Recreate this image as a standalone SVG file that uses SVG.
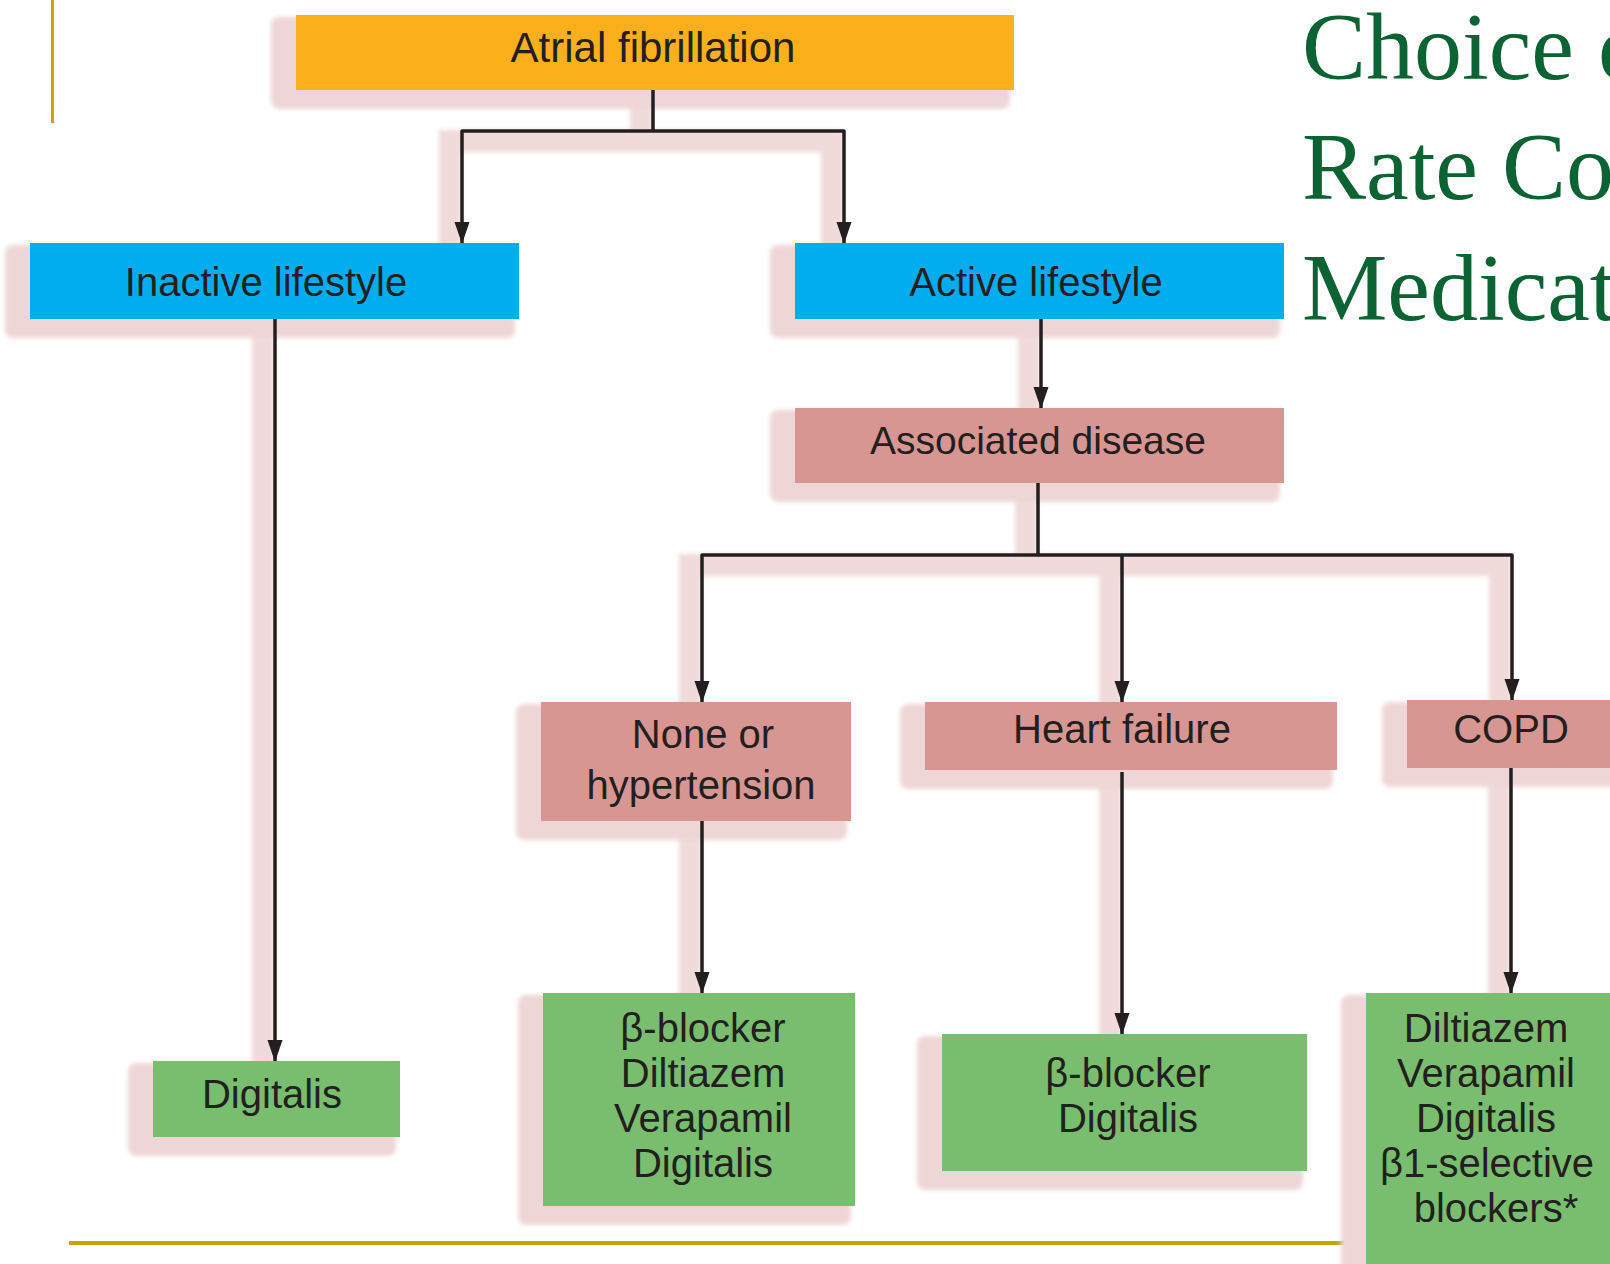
<svg xmlns="http://www.w3.org/2000/svg" width="1610" height="1264" viewBox="0 0 1610 1264">
<style>
  .txt { font-family: "Liberation Sans", Arial, sans-serif; font-size: 40px; fill: #231f20; text-anchor: middle; }
  .title { font-family: "Liberation Serif", "Times New Roman", serif; font-size: 96px; fill: #0b6232; }
  .orange { fill: #fbb01b; }
  .blue { fill: #00aeef; }
  .pink { fill: #d89693; }
  .green { fill: #78be6e; }
  .shadow { fill: #efd6d6; }
  .cshadow { fill: none; stroke: #f0dada; stroke-width: 22; }
  .conn { fill: none; stroke: #231f20; stroke-width: 3.5; stroke-linejoin: round; }
  .gold { fill: #d19f0a; }
</style>
<defs>
  <filter id="blur" x="-10%" y="-10%" width="120%" height="120%">
    <feGaussianBlur stdDeviation="2"/>
  </filter>
  <marker id="arr" markerUnits="userSpaceOnUse" markerWidth="22" markerHeight="16" viewBox="0 0 22 16" refX="21" refY="8" orient="auto">
    <path d="M0,0.5 L22,8 L0,15.5 Z" fill="#231f20"/>
  </marker>
</defs>

<rect x="0" y="0" width="1610" height="1264" fill="#ffffff"/>

<!-- decorative gold lines -->
<rect class="gold" x="51" y="0" width="3" height="123"/>
<rect class="gold" x="69" y="1241" width="1276" height="4"/>

<!-- title -->
<g id="title">
  <text class="title" x="1302" y="79">Choice o</text>
  <text class="title" x="1302" y="199">Rate Co</text>
  <text class="title" x="1302" y="320">Medicat</text>
</g>

<!-- shadows -->
<g id="shadows" filter="url(#blur)">
  <g transform="translate(-12,10)">
    <path class="cshadow" d="M653,80 V131 H462 V243"/>
    <path class="cshadow" d="M653,131 H844 V243"/>
    <path class="cshadow" d="M275,319 V1061"/>
    <path class="cshadow" d="M1041,319 V408"/>
    <path class="cshadow" d="M1038,483 V555 H702 V702"/>
    <path class="cshadow" d="M1038,555 H1512 V700"/>
    <path class="cshadow" d="M1122,555 V702"/>
    <path class="cshadow" d="M702,821 V993"/>
    <path class="cshadow" d="M1122,770 V1034"/>
    <path class="cshadow" d="M1511,768 V993"/>
  </g>
  <rect class="shadow" x="271" y="17" width="739" height="92" rx="8"/>
  <rect class="shadow" x="5" y="245" width="510" height="93" rx="8"/>
  <rect class="shadow" x="770" y="245" width="510" height="93" rx="8"/>
  <rect class="shadow" x="770" y="410" width="510" height="92" rx="8"/>
  <rect class="shadow" x="516" y="704" width="331" height="136" rx="8"/>
  <rect class="shadow" x="900" y="704" width="433" height="85" rx="8"/>
  <rect class="shadow" x="1382" y="702" width="260" height="85" rx="8"/>
  <rect class="shadow" x="128" y="1063" width="268" height="93" rx="8"/>
  <rect class="shadow" x="518" y="995" width="333" height="230" rx="8"/>
  <rect class="shadow" x="917" y="1036" width="386" height="154" rx="8"/>
  <rect class="shadow" x="1341" y="995" width="300" height="280" rx="8"/>
</g>

<!-- connectors -->
<g id="connectors">
  <path class="conn" d="M653,90 V131 H462 V243" marker-end="url(#arr)"/>
  <path class="conn" d="M653,131 H844 V243" marker-end="url(#arr)"/>
  <path class="conn" d="M275,319 V1061" marker-end="url(#arr)"/>
  <path class="conn" d="M1041,319 V408" marker-end="url(#arr)"/>
  <path class="conn" d="M1038,483 V555 H702 V702" marker-end="url(#arr)"/>
  <path class="conn" d="M1038,555 H1512 V700" marker-end="url(#arr)"/>
  <path class="conn" d="M1122,555 V702" marker-end="url(#arr)"/>
  <path class="conn" d="M702,821 V993" marker-end="url(#arr)"/>
  <path class="conn" d="M1122,772 V1034" marker-end="url(#arr)"/>
  <path class="conn" d="M1511,768 V993" marker-end="url(#arr)"/>
</g>

<!-- nodes -->
<g id="atrial-fibrillation">
  <rect class="orange" x="296" y="15" width="718" height="75"/>
  <text class="txt" x="653" y="62" style="font-size:42px">Atrial fibrillation</text>
</g>
<g id="inactive-lifestyle">
  <rect class="blue" x="30" y="243" width="489" height="76"/>
  <text class="txt" x="266" y="296">Inactive lifestyle</text>
</g>
<g id="active-lifestyle">
  <rect class="blue" x="795" y="243" width="489" height="76"/>
  <text class="txt" x="1036" y="296">Active lifestyle</text>
</g>
<g id="associated-disease">
  <rect class="pink" x="795" y="408" width="489" height="75"/>
  <text class="txt" x="1038" y="454" style="font-size:39px">Associated disease</text>
</g>
<g id="none-or-hypertension">
  <rect class="pink" x="541" y="702" width="310" height="119"/>
  <text class="txt" x="703" y="748">None or</text>
  <text class="txt" x="701" y="799">hypertension</text>
</g>
<g id="heart-failure">
  <rect class="pink" x="925" y="702" width="412" height="68"/>
  <text class="txt" x="1122" y="743">Heart failure</text>
</g>
<g id="copd">
  <rect class="pink" x="1407" y="700" width="260" height="68"/>
  <text class="txt" x="1511" y="743">COPD</text>
</g>
<g id="digitalis">
  <rect class="green" x="153" y="1061" width="247" height="76"/>
  <text class="txt" x="272" y="1108">Digitalis</text>
</g>
<g id="none-treatment">
  <rect class="green" x="543" y="993" width="312" height="213"/>
  <text class="txt" x="703" y="1042">β-blocker</text>
  <text class="txt" x="703" y="1087">Diltiazem</text>
  <text class="txt" x="703" y="1132">Verapamil</text>
  <text class="txt" x="703" y="1177">Digitalis</text>
</g>
<g id="hf-treatment">
  <rect class="green" x="942" y="1034" width="365" height="137"/>
  <text class="txt" x="1128" y="1087">β-blocker</text>
  <text class="txt" x="1128" y="1132">Digitalis</text>
</g>
<g id="copd-treatment">
  <rect class="green" x="1366" y="993" width="300" height="280"/>
  <text class="txt" x="1486" y="1042">Diltiazem</text>
  <text class="txt" x="1486" y="1087">Verapamil</text>
  <text class="txt" x="1486" y="1132">Digitalis</text>
  <text class="txt" x="1487" y="1177">β1-selective</text>
  <text class="txt" x="1496" y="1222">blockers*</text>
</g>
</svg>
